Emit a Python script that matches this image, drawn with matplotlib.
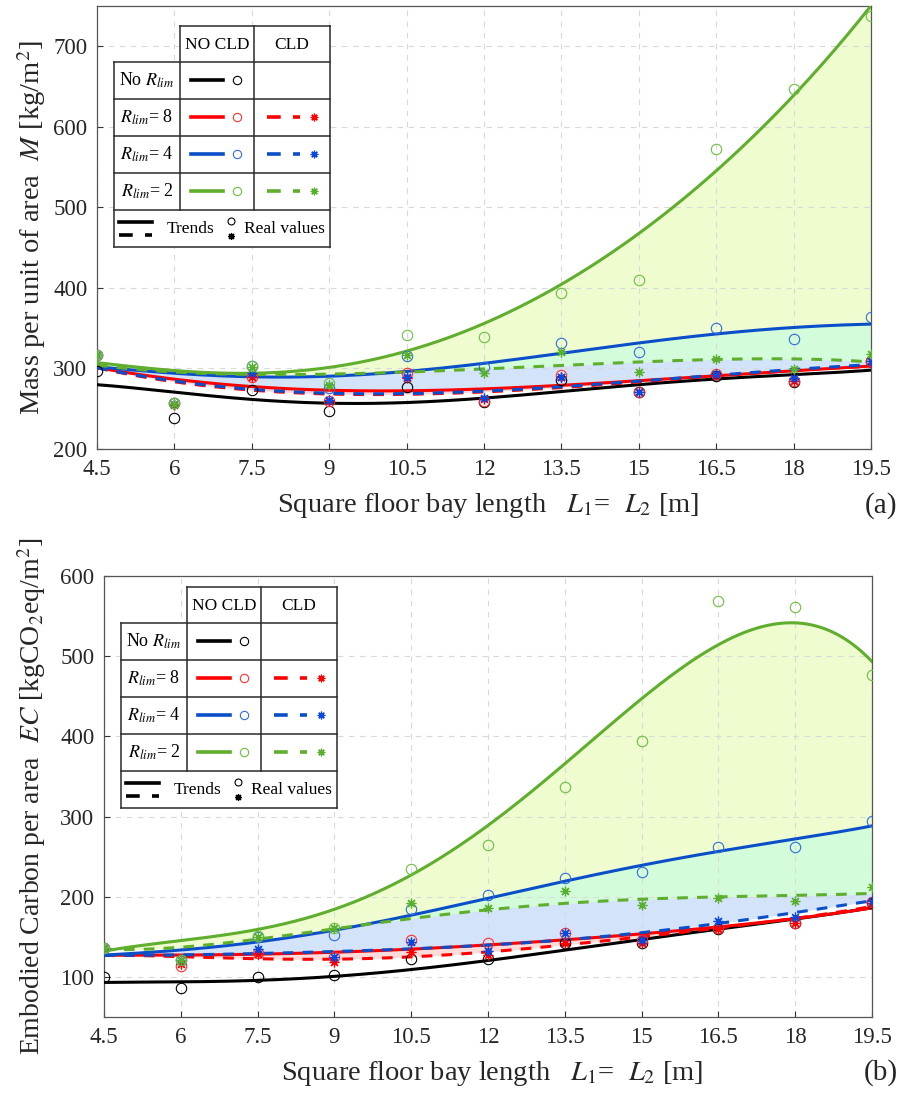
import matplotlib.pyplot as plt
import numpy as np

plt.rcParams['font.family'] = ['Liberation Serif', 'DejaVu Serif']
plt.rcParams['mathtext.fontset'] = 'stix'

W, H = 903, 1095

# bay lengths L1 = L2 [m]
bay = [4.5, 6, 7.5, 9, 10.5, 12, 13.5, 15, 16.5, 18, 19.5]

# (a) mass per unit area M [kg/m2] - real values
a_none_pts = [297, 239, 273, 247, 277, 258, 286, 271, 291, 283, 309]
a_r8_pts = [317, 257, 290, 260, 294, 260, 292, 271, 293, 284, 309]
a_r8c_pts = [317, 255, 289, 260, 288, 262, 290, 271, 292, 284, 309]
a_r4_pts = [317, 257, 303, 276, 316, 302, 332, 321, 350, 337, 364]
a_r4c_pts = [317, 256, 294, 261, 290, 263, 290, 271, 293, 288, 309]
a_r2_pts = [317, 257, 303, 282, 342, 339, 394, 410, 572, 647, 738]
a_r2c_pts = [317, 256, 302, 280, 317, 294, 320, 295, 312, 299, 318]

# (a) trend curves read at each bay length
a_none_tr = [280, 270, 262, 257, 258, 262, 272, 280, 287, 292, 298]
a_r8_tr = [301, 287, 277, 273, 273, 274, 279, 285, 291, 297, 303]
a_r8c_tr = [301, 283, 273, 269, 268, 270, 276, 284, 291, 297, 303]
a_r4_tr = [302, 294, 290, 290, 296, 307, 319, 331, 343, 351, 355]
a_r4c_tr = [301, 284, 274, 270, 269, 271, 277, 285, 292, 298, 305]
a_r2_tr = [307, 298, 294, 301, 320, 358, 405, 466, 545, 640, 750]
a_r2c_tr = [304, 296, 292, 293, 296, 299, 304, 308, 311, 312, 308]

# (b) embodied carbon EC [kgCO2eq/m2] - real values
b_none_pts = [100, 86, 100, 102, 122, 122, 142, 142, 160, 167, 192]
b_r8_pts = [136, 114, 130, 125, 146, 142, 155, 146, 161, 167, 193]
b_r8c_pts = [136, 116, 128, 119, 131, 127, 142, 142, 160, 167, 192]
b_r4_pts = [136, 121, 150, 152, 185, 202, 223, 231, 262, 262, 295]
b_r4c_pts = [136, 121, 135, 125, 144, 132, 155, 146, 170, 175, 195]
b_r2_pts = [136, 121, 151, 161, 235, 265, 337, 394, 569, 561, 476]
b_r2c_pts = [136, 121, 150, 161, 192, 186, 207, 190, 198, 195, 212]

# (b) trend curves read at each bay length
b_none_tr = [93, 94, 96, 100, 109, 121, 134, 146, 159, 173, 186]
b_r8_tr = [127, 127, 129, 130, 135, 140, 146, 154, 162, 173, 186]
b_r8c_tr = [127, 125, 123, 122, 125, 131, 140, 150, 161, 173, 188]
b_r4_tr = [127, 134, 144, 157, 177, 199, 220, 238, 256, 273, 288]
b_r4c_tr = [127, 127, 130, 131, 135, 140, 146, 155, 167, 180, 195]
b_r2_tr = [134, 141, 158, 190, 233, 282, 355, 452, 532, 524, 498]
b_r2c_tr = [134, 138, 146, 160, 173, 184, 192, 196, 200, 202, 204]

line_col = {'none': 'black', 'r8': '#ff0000', 'r4': '#0a4fc9', 'r2': '#5fae2e'}
circ_col = {'none': 'black', 'r8': '#ff3030', 'r4': '#2f6ddb', 'r2': '#6cc040'}
star_col = {'r8': '#ff0000', 'r4': '#0a46e0', 'r2': '#58b02e'}
star = (8, 2, 0)
dash = (0, (3.5, 3))


def draw_panel(ax, pts, trends, ylim, yticks):
    xs = np.linspace(bay[0], bay[-1], 400)
    s = {k: np.polyval(np.polyfit(bay, v, 5), xs) for k, v in trends.items()}

    ax.fill_between(xs, s['r4'], s['r4c'], color='#d2e3fa', lw=0, zorder=1)
    ax.fill_between(xs, s['r2'], s['r2c'], color='#eefccf', lw=0, zorder=1)
    lo = np.maximum(np.minimum(s['r4'], s['r4c']), np.minimum(s['r2'], s['r2c']))
    hi = np.minimum(np.maximum(s['r4'], s['r4c']), np.maximum(s['r2'], s['r2c']))
    ax.fill_between(xs, lo, hi, where=hi > lo, color='#d3fcda', lw=0, zorder=1)
    ax.fill_between(xs, s['r8'], s['r8c'], color='#fbcfcf', alpha=0.75, lw=0, zorder=1)

    ax.plot(xs, s['none'], color=line_col['none'], lw=2.2, zorder=3)
    for k in ['r8', 'r4', 'r2']:
        ax.plot(xs, s[k + 'c'], color=line_col[k], lw=2.2, ls=dash, zorder=3)
        ax.plot(xs, s[k], color=line_col[k], lw=2.2, zorder=3)

    ax.plot(bay, pts['none'], ls='none', marker='o', mfc='none',
            mec=circ_col['none'], ms=7.5, mew=0.8, zorder=4)
    for k in ['r8', 'r4', 'r2']:
        ax.plot(bay, pts[k], ls='none', marker='o', mfc='none',
                mec=circ_col[k], ms=7.5, mew=0.8, zorder=4)
        ax.plot(bay, pts[k + 'c'], ls='none', marker=star,
                color=star_col[k], ms=7, mew=0.9, zorder=4)

    ax.set_xlim(bay[0], bay[-1])
    ax.set_ylim(*ylim)
    ax.set_xticks(bay)
    ax.set_xticklabels(['%g' % v for v in bay])
    ax.set_yticks(yticks)
    ax.grid(True, ls=(0, (5, 5)), color='#d9d9d9', lw=0.8)
    ax.set_axisbelow('line')
    ax.tick_params(direction='in', length=4, labelsize=16.5, pad=7,
                   colors='#333333', labelcolor='#262626')
    for sp in ax.spines.values():
        sp.set_color('#555555')
        sp.set_linewidth(0.9)


def draw_table(ov, x0, y0):
    # x0, y0: top-left pixel of the row-label column
    L, C1, C2, R = x0, x0 + 66, x0 + 140, x0 + 216
    T0 = y0 - 36
    rows = [y0 + 37 * i for i in range(5)]
    B = rows[-1] + 37
    ov.add_patch(plt.Rectangle((C1, T0), R - C1, y0 - T0, fc='white', ec='none'))
    ov.add_patch(plt.Rectangle((L, y0), R - L, B - y0, fc='white', ec='none'))
    lc, lw = '#2a2a2a', 1.1
    ov.plot([C1, R], [T0, T0], color=lc, lw=lw)
    for y in rows + [B]:
        ov.plot([L, R], [y, y], color=lc, lw=lw)
    ov.plot([L, L], [y0, B], color=lc, lw=lw)
    ov.plot([R, R], [T0, B], color=lc, lw=lw)
    for xv in [C1, C2]:
        ov.plot([xv, xv], [T0, rows[-1]], color=lc, lw=lw)

    ov.text((C1 + C2) / 2, (T0 + y0) / 2 + 1, 'NO CLD', ha='center', va='center', fontsize=12.5)
    ov.text((C2 + R) / 2, (T0 + y0) / 2 + 1, 'CLD', ha='center', va='center', fontsize=12.5)

    labels = ['No $R_{lim}$', '$R_{lim}$= 8', '$R_{lim}$= 4', '$R_{lim}$= 2']
    keys = ['none', 'r8', 'r4', 'r2']
    for i, (lab, k) in enumerate(zip(labels, keys)):
        yc = rows[i] + 18
        ov.text((L + C1) / 2, yc, lab, ha='center', va='center', fontsize=13)
        ov.plot([C1 + 11, C1 + 43], [yc, yc], color=line_col[k], lw=2.6)
        ov.plot(C1 + 57, yc, marker='o', mfc='none', mec=circ_col[k], ms=6, mew=0.8)
        if k != 'none':
            ov.plot([C2 + 13, C2 + 46], [yc, yc], color=line_col[k], lw=2.6, ls=(0, (3.8, 3.4)))
            ov.plot(C2 + 60, yc, marker=star, color=star_col[k], ms=5.5, mew=0.9)

    yb = rows[-1]
    ov.plot([L + 5, L + 38], [yb + 12, yb + 12], color='black', lw=2.6)
    ov.plot([L + 5, L + 38], [yb + 25, yb + 25], color='black', lw=2.6, ls=(0, (3.8, 3.4)))
    ov.text(L + 53, yb + 19, 'Trends', ha='left', va='center', fontsize=12.5)
    ov.plot(L + 117, yb + 11, marker='o', mfc='none', mec='black', ms=5, mew=0.8)
    ov.plot(L + 117, yb + 26, marker=star, color='black', ms=5, mew=0.9)
    ov.text(L + 130, yb + 19, 'Real values', ha='left', va='center', fontsize=12.5)


fig = plt.figure(figsize=(W / 100, H / 100), dpi=100)
ax_a = fig.add_axes([97 / W, 1 - 449 / H, 774 / W, 443 / H])
ax_b = fig.add_axes([104 / W, 1 - 1017 / H, 768 / W, 441 / H])

draw_panel(ax_a,
           {'none': a_none_pts, 'r8': a_r8_pts, 'r8c': a_r8c_pts, 'r4': a_r4_pts,
            'r4c': a_r4c_pts, 'r2': a_r2_pts, 'r2c': a_r2c_pts},
           {'none': a_none_tr, 'r8': a_r8_tr, 'r8c': a_r8c_tr, 'r4': a_r4_tr,
            'r4c': a_r4c_tr, 'r2': a_r2_tr, 'r2c': a_r2c_tr},
           (200, 750), [200, 300, 400, 500, 600, 700])
draw_panel(ax_b,
           {'none': b_none_pts, 'r8': b_r8_pts, 'r8c': b_r8c_pts, 'r4': b_r4_pts,
            'r4c': b_r4c_pts, 'r2': b_r2_pts, 'r2c': b_r2c_pts},
           {'none': b_none_tr, 'r8': b_r8_tr, 'r8c': b_r8c_tr, 'r4': b_r4_tr,
            'r4c': b_r4c_tr, 'r2': b_r2_tr, 'r2c': b_r2c_tr},
           (50, 600), [100, 200, 300, 400, 500, 600])

ax_a.set_ylabel('Mass per unit of area  $\\it{M}$ [kg/m$^2$]', fontsize=20.5, color='#262626')
ax_a.yaxis.set_label_coords(-0.063, 0.5)
ax_b.set_ylabel('Embodied Carbon per area  $\\it{EC}$ [kgCO$_2$eq/m$^2$]', fontsize=20, color='#262626')
ax_b.yaxis.set_label_coords(-0.073, 0.5)
for ax in (ax_a, ax_b):
    ax.set_xlabel('Square floor bay length   $L_{\\mathit{1}}$=  $L_2$ [m]', fontsize=20.5, color='#262626')
    ax.xaxis.set_label_coords(0.505, -0.095)

fig.text(881 / W, 1 - 506 / H, '(a)', ha='center', va='center', fontsize=21, color='#262626')
fig.text(881 / W, 1 - 1073 / H, '(b)', ha='center', va='center', fontsize=21, color='#262626')

ov = fig.add_axes([0, 0, 1, 1])
ov.set_xlim(0, W)
ov.set_ylim(H, 0)
ov.axis('off')
ov.patch.set_visible(False)
draw_table(ov, 114, 62)
draw_table(ov, 121, 623)

fig.savefig('out.png', dpi=100)
